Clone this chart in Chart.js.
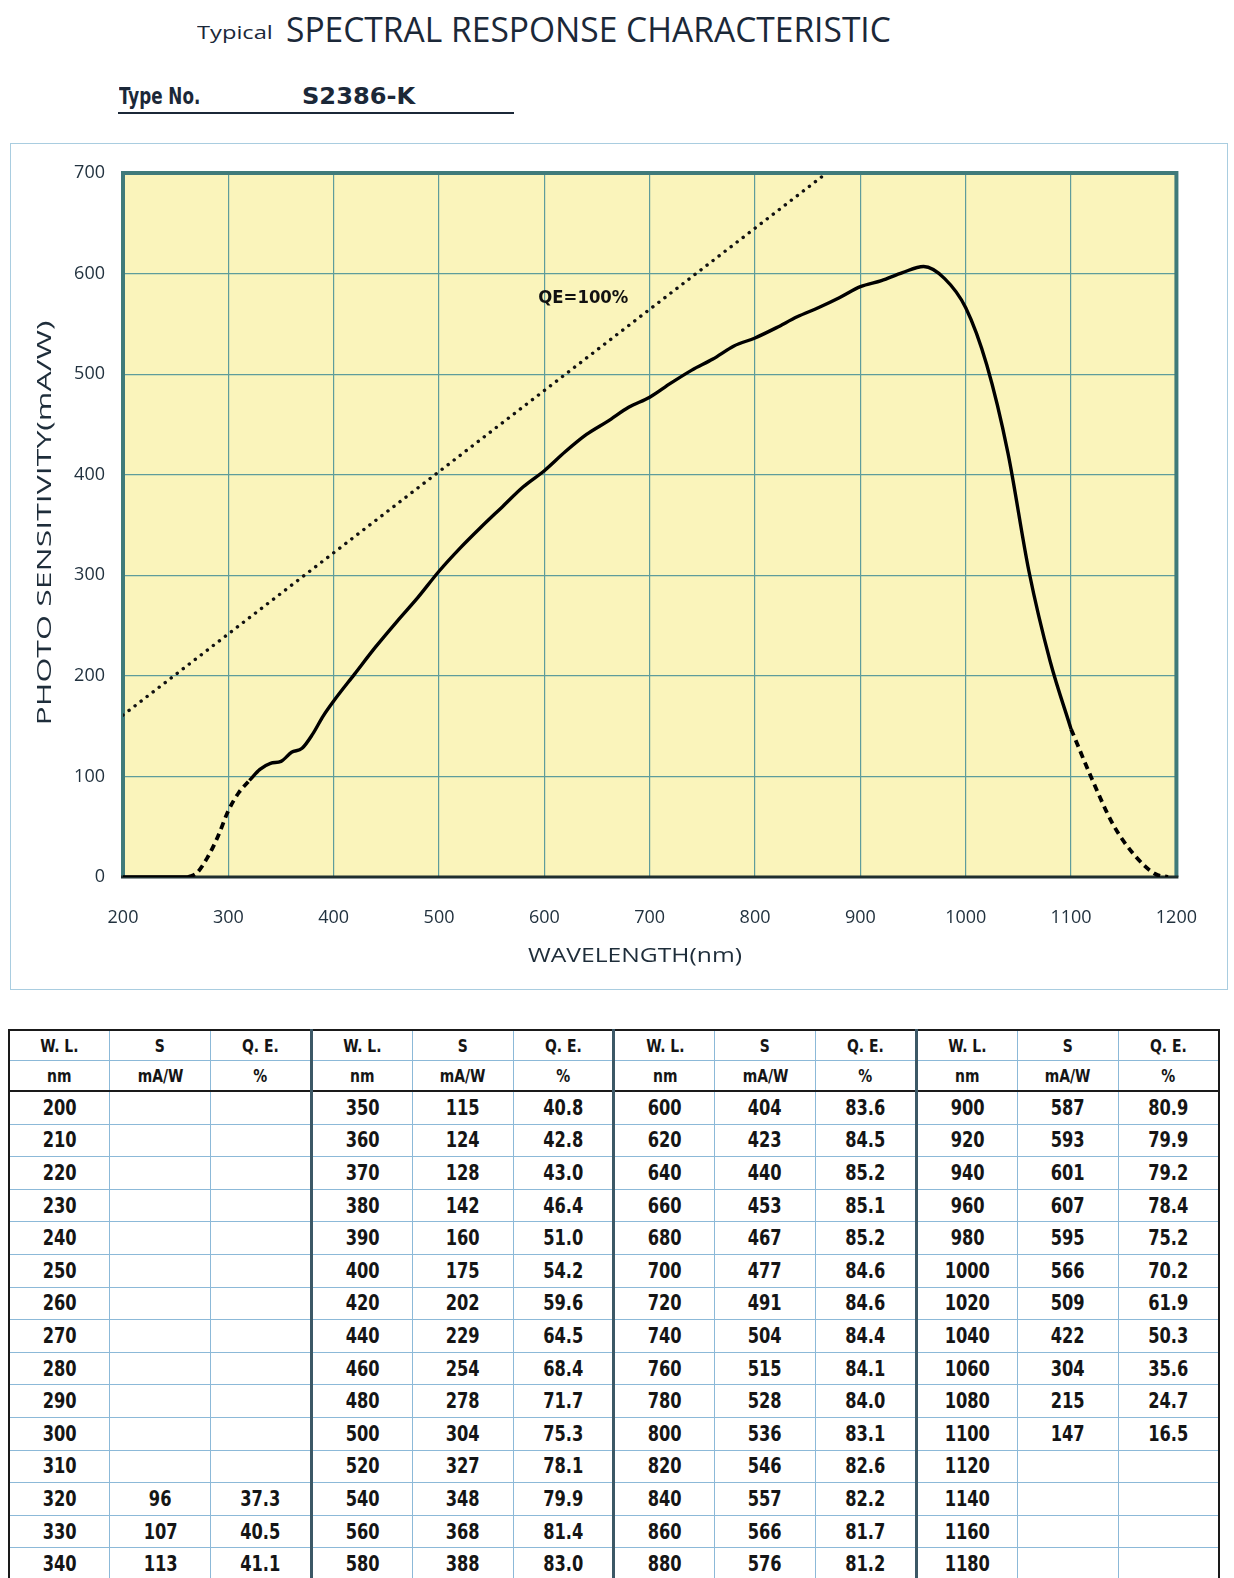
<!DOCTYPE html>
<html>
<head>
<meta charset="utf-8">
<script src="https://cdn.jsdelivr.net/npm/chart.js@4.4.1/dist/chart.umd.min.js"></script>
<style>
  html, body { margin: 0; padding: 0; background: #fff; }
  body { width: 1234px; height: 1578px; position: relative; overflow: hidden; font-family: "Open Sans", sans-serif; }
  .fit { position: absolute; white-space: nowrap; transform-origin: left top; color: #1b2838; }
  #typical { left: 197px; top: 19px; font-size: 19px; }
  #bigTitle { left: 286px; top: 5px; font-size: 35px; }
  .tn { font-family: "DejaVu Sans Condensed", "DejaVu Sans", sans-serif; font-stretch: condensed; font-weight: bold; font-size: 23px; }
  #typeLbl { left: 119px; top: 83px; }
  #typeVal { left: 302px; top: 83px; }
  #uline { position: absolute; left: 118px; top: 112px; width: 396px; height: 0; border-bottom: 2px solid #1b2838; }
  #box { position: absolute; left: 10px; top: 143px; width: 1216px; height: 845px; border: 1px solid #a9cde0; }
  #chart { display: block; }
  #tbl { position: absolute; left: 8px; top: 1029px; width: 1212px; border-collapse: collapse; table-layout: fixed;
         border: 2px solid #1a1a1a; font-family: "DejaVu Sans Condensed", "DejaVu Sans", sans-serif; font-stretch: condensed;
         font-weight: bold; font-size: 21px; color: #151515; }
  #tbl td { border: 1px solid #8cb9d8; text-align: center; padding: 0; height: 31.6px; line-height: 20px; }
  #tbl td span { display: inline-block; transform: scaleX(0.86); }
  #tbl tr.h td { height: 29px; font-size: 18px; }
  #tbl tr.h2 td { border-bottom: 2px solid #1a1a1a; }
  #tbl td.sep { border-right: 3px solid #3c5866; }
</style>
</head>
<body>
<div class="fit" id="typical" data-w="76">Typical</div>
<div class="fit" id="bigTitle" data-w="605">SPECTRAL RESPONSE CHARACTERISTIC</div>
<div class="fit tn" id="typeLbl" data-w="81">Type No.</div>
<div class="fit tn" id="typeVal" data-w="113">S2386-K</div>
<div id="uline"></div>
<div id="box"><canvas id="chart" width="1216" height="845"></canvas></div>
<table id="tbl"></table>
<script>
// measured values (table)
const wl = [320, 330, 340, 350, 360, 370, 380, 390, 400, 420, 440, 460, 480, 500, 520, 540, 560, 580,
            600, 620, 640, 660, 680, 700, 720, 740, 760, 780, 800, 820, 840, 860, 880,
            900, 920, 940, 960, 980, 1000, 1020, 1040, 1060, 1080, 1100]
const sens = [96, 107, 113, 115, 124, 128, 142, 160, 175, 202, 229, 254, 278, 304, 327, 348, 368, 388,
              404, 423, 440, 453, 467, 477, 491, 504, 515, 528, 536, 546, 557, 566, 576,
              587, 593, 601, 607, 595, 566, 509, 422, 304, 215, 147]
const qe = [37.3, 40.5, 41.1, 40.8, 42.8, 43.0, 46.4, 51.0, 54.2, 59.6, 64.5, 68.4, 71.7, 75.3, 78.1, 79.9, 81.4, 83.0,
            83.6, 84.5, 85.2, 85.1, 85.2, 84.6, 84.6, 84.4, 84.1, 84.0, 83.1, 82.6, 82.2, 81.7, 81.2,
            80.9, 79.9, 79.2, 78.4, 75.2, 70.2, 61.9, 50.3, 35.6, 24.7, 16.5]

// table wavelength columns
const tableWl = [
  [200, 210, 220, 230, 240, 250, 260, 270, 280, 290, 300, 310, 320, 330, 340],
  [350, 360, 370, 380, 390, 400, 420, 440, 460, 480, 500, 520, 540, 560, 580],
  [600, 620, 640, 660, 680, 700, 720, 740, 760, 780, 800, 820, 840, 860, 880],
  [900, 920, 940, 960, 980, 1000, 1020, 1040, 1060, 1080, 1100, 1120, 1140, 1160, 1180]
]

// curve parts
const zeroWl = [200, 262]
const zeroS = [0, 0]
const riseWl = [262, 270, 280, 290, 300, 310, 320]
const riseS = [0, 4, 19, 40, 66, 84, 96]
const fallWl = [1100, 1120, 1140, 1160, 1180, 1192]
const fallS = [147, 97, 52, 22, 3, 0]
const qeLineWl = [200, 868]
const qeLineS = [161, 700]

const xTicks = [200, 300, 400, 500, 600, 700, 800, 900, 1000, 1100, 1200]
const yTicks = [0, 100, 200, 300, 400, 500, 600, 700]

function pts(xs, ys){
    return xs.map((x, i) => ({x: x, y: ys[i]}))
}

// stretch the heading texts to the widths they have on the sheet
document.querySelectorAll('.fit').forEach(function(el){
    el.style.transform = 'scaleX(' + (el.dataset.w / el.offsetWidth) + ')'
})

// table
var tbl = document.getElementById('tbl')
var html = ''
var h1 = '', h2 = ''
for(let g = 0; g < 4; g++){
    let sep = g < 3 ? ' class="sep"' : ''
    h1 += '<td><span>W. L.</span></td><td><span>S</span></td><td' + sep + '><span>Q. E.</span></td>'
    h2 += '<td><span>nm</span></td><td><span>mA/W</span></td><td' + sep + '><span>%</span></td>'
}
html += '<tr class="h">' + h1 + '</tr><tr class="h h2">' + h2 + '</tr>'
for(let r = 0; r < 15; r++){
    html += '<tr>'
    for(let g = 0; g < 4; g++){
        let w = tableWl[g][r]
        let i = wl.indexOf(w)
        let sep = g < 3 ? ' class="sep"' : ''
        html += '<td><span>' + w + '</span></td><td><span>' + (i >= 0 ? sens[i] : '') + '</span></td><td' + sep + '><span>' + (i >= 0 ? qe[i].toFixed(1) : '') + '</span></td>'
    }
    html += '</tr>'
}
tbl.innerHTML = html

function fitText(ctx, text, cx, cy, width, rotate){
    ctx.save()
    ctx.translate(cx, cy)
    if(rotate) ctx.rotate(-Math.PI / 2)
    let w = ctx.measureText(text).width
    ctx.scale(width / w, 1)
    ctx.textAlign = 'center'
    ctx.textBaseline = 'middle'
    ctx.fillText(text, 0, 0)
    ctx.restore()
}

const plotFrame = {
    id: 'plotFrame',
    beforeDraw(chart){
        const {ctx, chartArea: a} = chart
        ctx.save()
        ctx.fillStyle = '#faf4bb'
        ctx.fillRect(a.left, a.top, a.width, a.height)
        ctx.restore()
    },
    beforeDatasetsDraw(chart){
        const {ctx, chartArea: a} = chart
        ctx.save()
        ctx.strokeStyle = '#3f7a7a'
        ctx.lineWidth = 4
        ctx.beginPath()
        ctx.moveTo(a.left, a.bottom)
        ctx.lineTo(a.left, a.top)
        ctx.lineTo(a.right, a.top)
        ctx.lineTo(a.right, a.bottom)
        ctx.stroke()
        ctx.strokeStyle = '#1f2f2f'
        ctx.lineWidth = 3
        ctx.beginPath()
        ctx.moveTo(a.left - 2, a.bottom)
        ctx.lineTo(a.right + 2, a.bottom)
        ctx.stroke()
        ctx.restore()
    },
    afterDatasetsDraw(chart){
        const {ctx, scales, chartArea: a} = chart
        ctx.save()
        ctx.font = 'bold 18px "DejaVu Sans Condensed", "DejaVu Sans"'
        ctx.fillStyle = '#111'
        fitText(ctx, 'QE=100%', scales.x.getPixelForValue(637), scales.y.getPixelForValue(575), 90, false)
        // axis titles
        ctx.font = '20px "Open Sans"'
        ctx.fillStyle = '#1e2d3a'
        fitText(ctx, 'WAVELENGTH(nm)', a.left + 512, a.bottom + 79, 214, false)
        fitText(ctx, 'PHOTO SENSITIVITY(mA/W)', a.left - 78, (a.top + a.bottom) / 2 - 2, 405, true)
        ctx.restore()
    }
}

const ctx = document.getElementById('chart').getContext('2d')
const tickFont = {family: '"Open Sans"', size: 18}
const myChart = new Chart(ctx, {
    type: 'line',
    data: {
        datasets: [
            {data: pts(wl, sens), borderColor: '#000', borderWidth: 3.4, cubicInterpolationMode: 'monotone'},
            {data: pts(zeroWl, zeroS), borderColor: '#000', borderWidth: 3.4},
            {data: pts(riseWl, riseS), borderColor: '#000', borderWidth: 3.8, borderDash: [7, 5], cubicInterpolationMode: 'monotone'},
            {data: pts(fallWl, fallS), borderColor: '#000', borderWidth: 3.8, borderDash: [7, 5], cubicInterpolationMode: 'monotone'},
            {data: pts(qeLineWl, qeLineS), borderColor: '#111', borderWidth: 3.4, borderDash: [0.1, 7.5], borderCapStyle: 'round'}
        ]
    },
    options: {
        responsive: false,
        animation: false,
        parsing: false,
        elements: {point: {radius: 0}},
        layout: {padding: {top: 29, right: 50, left: 0, bottom: 0}},
        plugins: {legend: {display: false}, tooltip: {enabled: false}},
        scales: {
            x: {
                type: 'linear', min: 200, max: 1200,
                afterBuildTicks: s => { s.ticks = xTicks.map(v => ({value: v})) },
                afterFit: s => { s.height = 112 },
                grid: {color: '#5e9c9b', lineWidth: 1.2, drawTicks: false},
                border: {display: false},
                ticks: {font: tickFont, color: '#22323f', padding: 30, maxRotation: 0, callback: v => String(v)}
            },
            y: {
                min: 0, max: 700,
                afterBuildTicks: s => { s.ticks = yTicks.map(v => ({value: v})) },
                afterFit: s => { s.width = 112 },
                grid: {color: '#5e9c9b', lineWidth: 1.2, drawTicks: false},
                border: {display: false},
                ticks: {font: tickFont, color: '#22323f', padding: 18, callback: v => String(v)}
            }
        }
    },
    plugins: [plotFrame]
})
</script>
</body>
</html>
